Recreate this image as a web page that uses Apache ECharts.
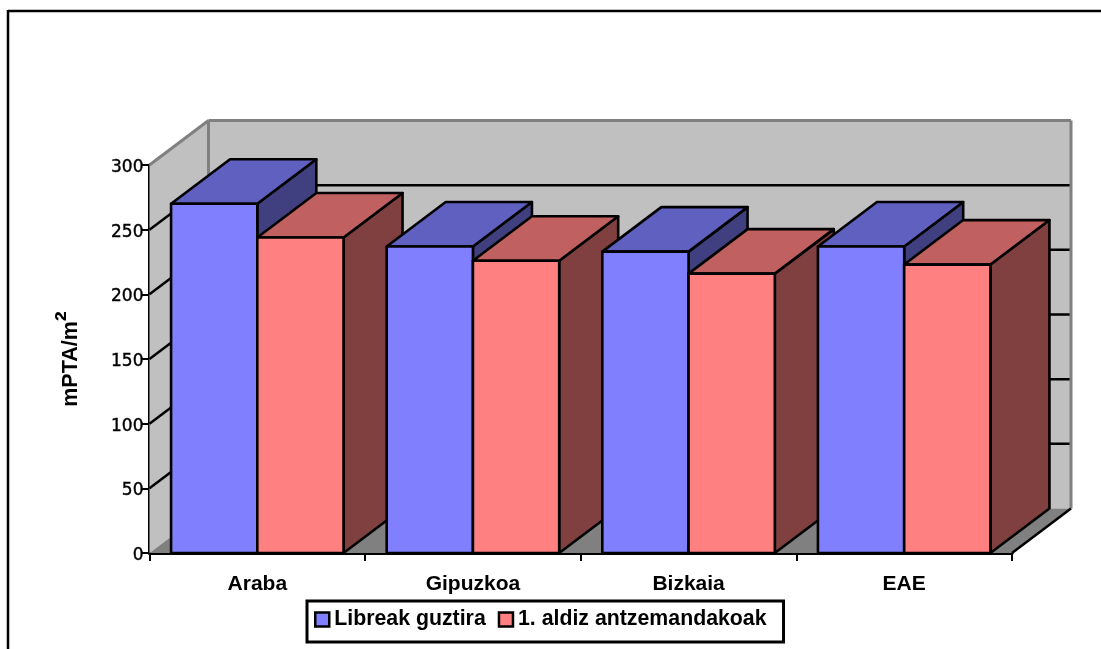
<!DOCTYPE html>
<html>
<head>
<meta charset="utf-8">
<style>html,body{margin:0;padding:0;background:#fff}#chart{width:1101px;height:649px}</style>
<script src="https://cdn.jsdelivr.net/npm/echarts@6/dist/echarts.min.js"></script>
</head>
<body>
<div id="chart"></div>
<script>
const categories = ['Araba', 'Gipuzkoa', 'Bizkaia', 'EAE'];
const libreak = [270, 237, 233, 237];
const antzemandakoak = [244, 226, 216, 223];
const yTicks = [0, 50, 100, 150, 200, 250, 300];

// Oblique projection offset of the chart's depth axis, in pixels
const DEPTH_X = 59;
const DEPTH_Y = -44.5;
const GAP_SHARE = 0.2; // share of a category band left empty overall, from a 50% gap width
const FONT = '"Liberation Sans", Arial, sans-serif';

const poly = (points, fill, z2, stroke, lineWidth) => ({
  type: 'polygon',
  z2,
  shape: { points },
  style: { fill, stroke: stroke || null, lineWidth: lineWidth === undefined ? 2.6 : lineWidth, lineJoin: 'round' }
});
const seg = (a, b, stroke, z2, lineWidth) => ({
  type: 'line',
  z2,
  shape: { x1: a[0], y1: a[1], x2: b[0], y2: b[1] },
  style: { stroke, lineWidth: lineWidth || 2.5 }
});
const back = p => [p[0] + DEPTH_X, p[1] + DEPTH_Y];

// Side wall, back wall, floor and gridlines of the 3D plot box
function renderWalls(params, api) {
  if (params.dataIndex !== 0) return null;
  const n = categories.length;
  const maxY = yTicks[yTicks.length - 1];
  const bl = api.coord([0, 0]);
  const halfBand = api.size([1, 0])[0] / 2;
  const x0 = bl[0] - halfBand;
  const x1 = api.coord([n - 1, 0])[0] + halfBand;
  const y0 = bl[1];
  const yTop = api.coord([0, maxY])[1];
  const GRAY = '#808080';
  const kids = [
    poly([[x0, y0], back([x0, y0]), back([x0, yTop]), [x0, yTop]], '#c0c0c0', 0),
    poly([back([x0, y0]), back([x1, y0]), back([x1, yTop]), back([x0, yTop])], '#c0c0c0', 0),
    poly([[x0, y0], [x1, y0], back([x1, y0]), back([x0, y0])], GRAY, 0)
  ];
  yTicks.slice(1, -1).forEach(v => {
    const y = api.coord([0, v])[1];
    kids.push(seg([x0, y], back([x0, y]), '#000', 1));
    kids.push(seg(back([x0, y]), back([x1, y]), '#000', 1));
  });
  kids.push(seg([x0, yTop], back([x0, yTop]), GRAY, 1, 3));
  kids.push(seg(back([x0, yTop]), back([x1, yTop]), GRAY, 1, 3));
  kids.push(seg(back([x0, y0]), back([x0, yTop]), GRAY, 1, 3));
  kids.push(seg(back([x1, y0]), back([x1, yTop]), GRAY, 1, 3));
  kids.push(seg([x1, y0], back([x1, y0]), '#000', 1));
  return { type: 'group', children: kids };
}

// One 3D bar: front face, lit top and shaded side, sitting beside its partner in the band
function barRenderer(seriesSlot, front, top, side) {
  return function (params, api) {
    const catIndex = api.value(0);
    const val = api.value(1);
    const band = api.size([1, 0])[0];
    const width = band * (1 - GAP_SHARE) / 2;
    const cx = api.coord([catIndex, 0])[0];
    const left = cx - width + seriesSlot * width;
    const right = left + width;
    const base = api.coord([catIndex, 0])[1];
    const y = api.coord([catIndex, val])[1];
    const z2 = 10 + catIndex * 3 + seriesSlot;
    return {
      type: 'group',
      children: [
        poly([[right, base], back([right, base]), back([right, y]), [right, y]], side, z2, '#000'),
        poly([[left, y], [right, y], back([right, y]), back([left, y])], top, z2, '#000'),
        poly([[left, base], [right, base], [right, y], [left, y]], front, z2, '#000')
      ]
    };
  };
}

const rows = values => values.map((v, i) => [categories[i], v]);
const chart = echarts.init(document.getElementById('chart'));
chart.setOption({
  animation: false,
  backgroundColor: '#fff',
  graphic: [
    { type: 'line', silent: true, z: -1, shape: { x1: 8, y1: 11, x2: 1101, y2: 11 }, style: { stroke: '#000', lineWidth: 2.5 } },
    { type: 'line', silent: true, z: -1, shape: { x1: 8, y1: 10, x2: 8, y2: 649 }, style: { stroke: '#000', lineWidth: 2.5 } }
  ],
  grid: { left: 149.5, top: 165, width: 862.5, height: 388 },
  legend: {
    left: 307, top: 601, orient: 'horizontal',
    width: 476,
    padding: [8, 17, 12, 7],
    itemGap: 12, itemWidth: 14, itemHeight: 14,
    borderColor: '#000', borderWidth: 3, backgroundColor: '#fff',
    textStyle: { fontFamily: FONT, fontWeight: 'bold', fontSize: 21.3, color: '#000' },
    data: [
      { name: 'Libreak guztira', icon: 'rect', itemStyle: { color: '#8080ff', borderColor: '#000', borderWidth: 2.5 } },
      { name: '1. aldiz antzemandakoak', icon: 'rect', itemStyle: { color: '#ff8080', borderColor: '#000', borderWidth: 2.5 } }
    ]
  },
  xAxis: {
    type: 'category',
    data: categories,
    boundaryGap: true,
    axisLine: { lineStyle: { color: '#000', width: 3 } },
    axisTick: { show: true, length: 8, lineStyle: { color: '#000', width: 2 } },
    axisLabel: { fontFamily: FONT, fontWeight: 'bold', fontSize: 21, color: '#000', margin: 21 },
    splitLine: { show: false }
  },
  yAxis: {
    type: 'value',
    min: 0, max: 300, interval: 50,
    name: '{a|mPTA/m}{b|²}',
    nameLocation: 'middle',
    nameGap: 59,
    nameRotate: 90,
    nameTextStyle: {
      rich: {
        a: { fontFamily: FONT, fontWeight: 'bold', fontSize: 21.5, color: '#000' },
        b: { fontFamily: FONT, fontWeight: 'bold', fontSize: 30, color: '#000', padding: [0, 0, 8, 0] }
      }
    },
    axisLine: { show: true, lineStyle: { color: '#000', width: 3 } },
    axisTick: { show: true, length: 8, lineStyle: { color: '#000', width: 2 } },
    axisLabel: { fontFamily: '"DejaVu Sans", sans-serif', fontSize: 17, color: '#000', margin: 6, verticalAlign: 'top', padding: [-6, 0, 0, 0], textBorderColor: '#000', textBorderWidth: 0.4 },
    splitLine: { show: false }
  },
  series: [
    { type: 'custom', name: 'walls', silent: true, z: 1, clip: false, renderItem: renderWalls, data: rows(libreak), encode: { x: 0, y: 1 } },
    { type: 'custom', name: 'Libreak guztira', z: 2, clip: false, renderItem: barRenderer(0, '#8080ff', '#6060c0', '#404080'), data: rows(libreak), encode: { x: 0, y: 1 }, itemStyle: { color: '#8080ff' } },
    { type: 'custom', name: '1. aldiz antzemandakoak', z: 2, clip: false, renderItem: barRenderer(1, '#ff8080', '#c06060', '#804040'), data: rows(antzemandakoak), encode: { x: 0, y: 1 }, itemStyle: { color: '#ff8080' } }
  ]
});
</script>
</body>
</html>
